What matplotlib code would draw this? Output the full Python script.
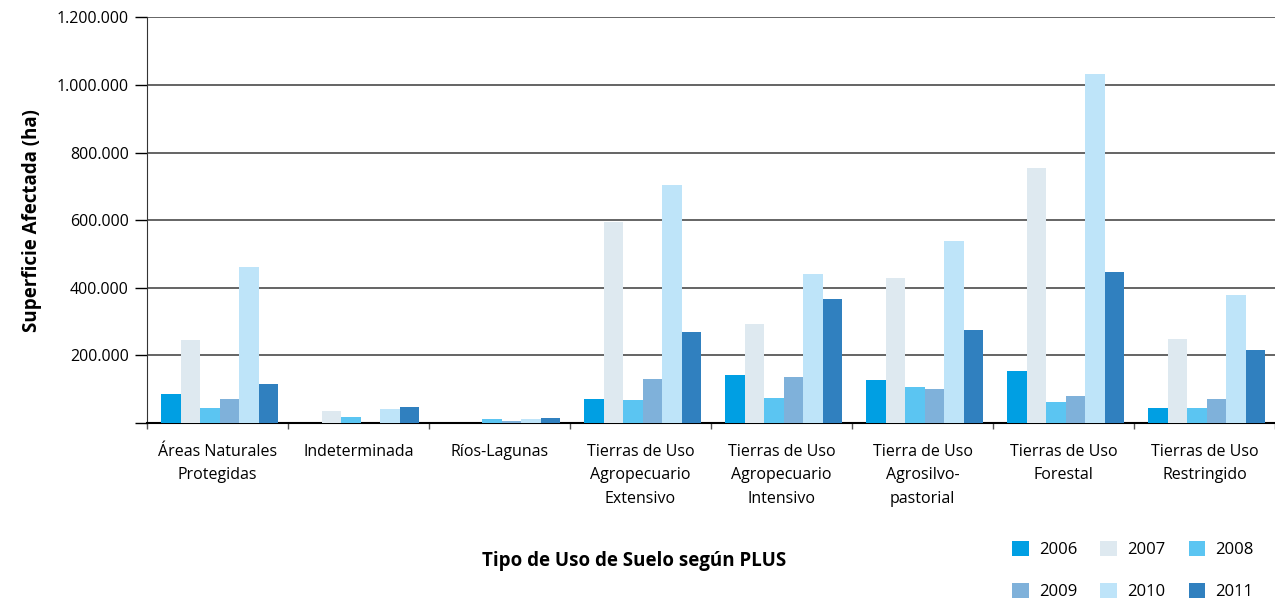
import numpy as np
import matplotlib.pyplot as plt
from matplotlib.ticker import FuncFormatter

plt.rcParams['font.family'] = ['Open Sans', 'DejaVu Sans']

# Categories (tipo de uso de suelo) and yearly values (ha)
categorias = ["Áreas Naturales\nProtegidas", "Indeterminada", "Ríos-Lagunas",
              "Tierras de Uso\nAgropecuario\nExtensivo", "Tierras de Uso\nAgropecuario\nIntensivo",
              "Tierra de Uso\nAgrosilvo-\npastorial", "Tierras de Uso\nForestal",
              "Tierras de Uso\nRestringido"]
anios = ["2006", "2007", "2008", "2009", "2010", "2011"]

v2006 = [87000, 0, 0, 71000, 143000, 127000, 155000, 43000]
v2007 = [246000, 37000, 0, 595000, 293000, 430000, 756000, 250000]
v2008 = [43000, 18000, 12000, 68000, 73000, 107000, 62000, 43000]
v2009 = [71000, 0, 6000, 129000, 135000, 101000, 79000, 71000]
v2010 = [463000, 40000, 12000, 705000, 442000, 540000, 1034000, 378000]
v2011 = [115000, 48000, 15000, 268000, 368000, 274000, 448000, 216000]
series = [v2006, v2007, v2008, v2009, v2010, v2011]

colores = ["#009FE3", "#DEE9F0", "#5BC5F2", "#7FB1DA", "#BEE4F9", "#3080BF"]

fig = plt.figure(figsize=(12.75, 6.03), dpi=100)
ax = fig.add_axes([0.1153, 0.2985, 0.8847, 0.6725])

x = np.arange(len(categorias))
w = 0.138
barras = []
for i, (vals, c, a) in enumerate(zip(series, colores, anios)):
    b = ax.bar(x + (i - 2.5) * w + 0.015, vals, w, color=c, label=a, zorder=3)
    barras.append(b)

ax.set_xlim(-0.5, len(categorias) - 0.5)
ax.set_ylim(0, 1200000)
ax.set_yticks(np.arange(0, 1200001, 200000))
ax.yaxis.set_major_formatter(FuncFormatter(
    lambda v, p: "" if v == 0 else f"{int(v):,}".replace(",", ".")))
ax.yaxis.grid(True, color="#3a3a3a", linewidth=1.1, zorder=0)
ax.set_axisbelow(True)

ax.set_xticks(x)
ax.set_xticklabels(categorias, fontsize=11.5, linespacing=1.62)
ax.set_xticks(np.arange(-0.5, len(categorias)), minor=True)
ax.tick_params(axis="x", which="major", length=0, pad=15)
ax.tick_params(axis="x", which="minor", length=4, width=1, color="#555555")
ax.tick_params(axis="y", length=9, width=1, labelsize=11.5, pad=4)

for s in ["top", "right"]:
    ax.spines[s].set_visible(False)
ax.spines["left"].set_color("#333333")
ax.spines["bottom"].set_color("black")
ax.spines["bottom"].set_linewidth(1.5)

ax.set_ylabel("Superficie Afectada (ha)", fontsize=13.5, fontweight="bold", labelpad=11)
fig.text(0.497, 0.07, "Tipo de Uso de Suelo según PLUS", fontsize=13.5,
         fontweight="bold", ha="center", va="center")

# legend filled row by row: 2006 2007 2008 / 2009 2010 2011
orden = [0, 3, 1, 4, 2, 5]
fig.legend([barras[k] for k in orden], [anios[k] for k in orden],
           loc="lower right", bbox_to_anchor=(0.995, -0.02), ncol=3, frameon=False,
           fontsize=12, handlelength=1.0, handleheight=1.0, handletextpad=0.6,
           columnspacing=1.4, labelspacing=1.5)

fig.savefig("out.png", dpi=100)
